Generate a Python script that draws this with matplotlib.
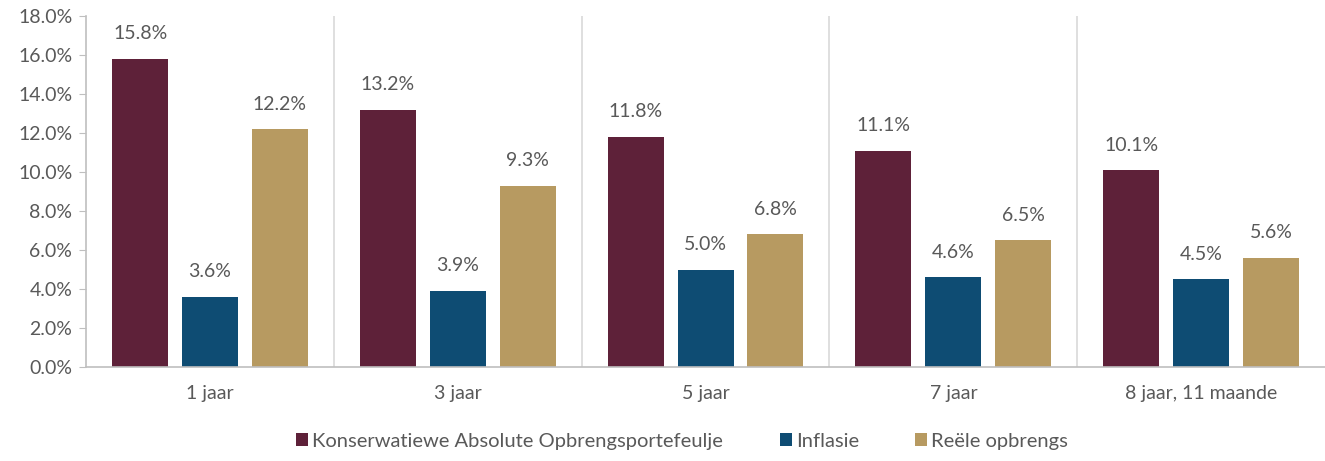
import matplotlib.pyplot as plt
import numpy as np

plt.rcParams['font.family'] = ['Lato', 'DejaVu Sans']

categories = ['1 jaar', '3 jaar', '5 jaar', '7 jaar', '8 jaar, 11 maande']
series_names = ['Konserwatiewe Absolute Opbrengsportefeulje', 'Inflasie', 'Reële opbrengs']
portfolio = [15.8, 13.2, 11.8, 11.1, 10.1]
inflation = [3.6, 3.9, 5.0, 4.6, 4.5]
real_return = [12.2, 9.3, 6.8, 6.5, 5.6]
colors = ['#5E2139', '#0E4C73', '#B79A61']
text_col = '#595959'

fig = plt.figure(figsize=(13.25, 4.61), dpi=100)
ax = fig.add_axes([0.065, 0.204, 0.935, 0.761])

x = np.arange(len(categories))
offset = 0.282
width = 0.226
for i, (vals, name) in enumerate(zip([portfolio, inflation, real_return], series_names)):
    bars = ax.bar(x + (i - 1) * offset, vals, width, color=colors[i], label=name)
    for b, v in zip(bars, vals):
        ax.text(b.get_x() + b.get_width() / 2, v + 0.85, f'{v:.1f}%', ha='center', va='bottom',
                fontsize=14, color=text_col)

for sep in x[:-1] + 0.5:
    ax.axvline(sep, color='#D9D9D9', lw=1.2)

ax.set_xlim(-0.5, len(categories) - 0.5)
ax.set_ylim(0, 18)
ax.set_yticks(np.arange(0, 18.1, 2))
ax.set_yticklabels([f'{t:.1f}%' for t in np.arange(0, 18.1, 2)])
ax.set_xticks(x)
ax.set_xticklabels(categories)
ax.tick_params(axis='y', length=5, color='#BFBFBF', labelsize=14, labelcolor=text_col, pad=5)
ax.tick_params(axis='x', length=0, labelsize=14, labelcolor=text_col, pad=13)
for s in ['top', 'right']:
    ax.spines[s].set_visible(False)
for s in ['left', 'bottom']:
    ax.spines[s].set_color('#BFBFBF')
    ax.spines[s].set_linewidth(1.2)

leg = fig.legend(loc='lower center', bbox_to_anchor=(0.515, -0.015), ncol=3, frameon=False,
                 fontsize=14.5, handlelength=0.6, handleheight=0.6, handletextpad=0.2, columnspacing=2.8)
for t in leg.get_texts():
    t.set_color(text_col)

fig.savefig('out.png', dpi=100)
